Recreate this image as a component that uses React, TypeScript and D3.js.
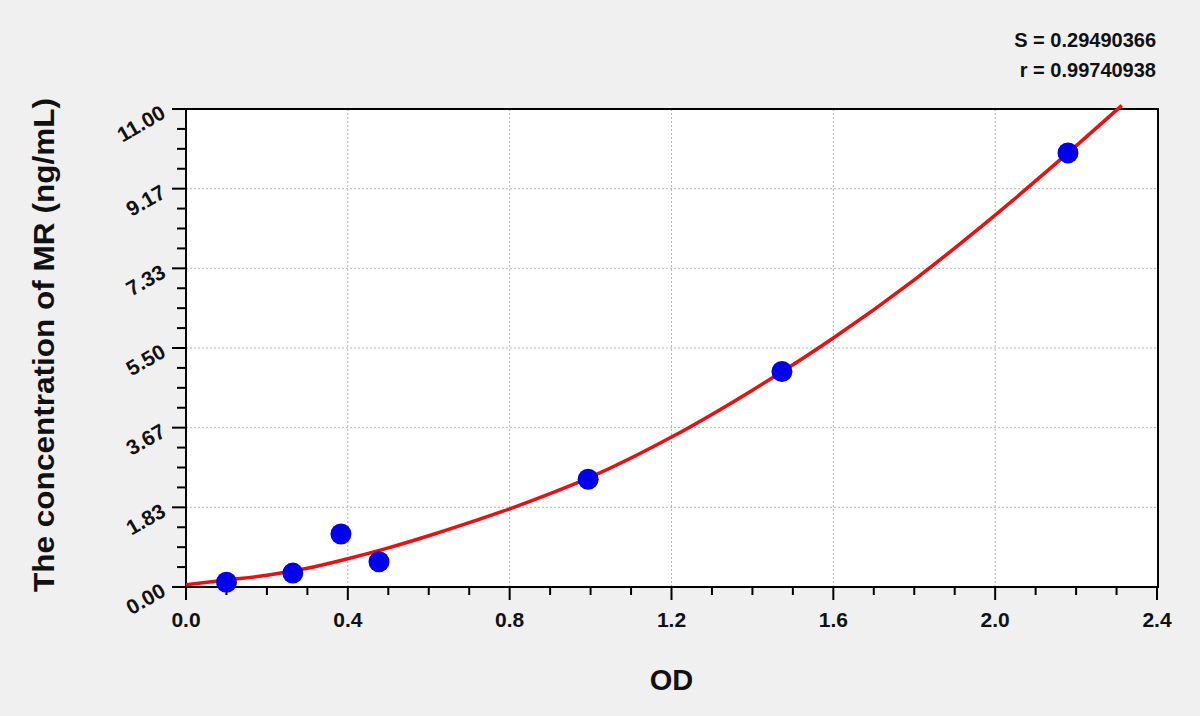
import * as d3 from "d3";

const width = 1200;
const height = 716;
const plotLeft = 186;
const plotRight = 1157;
const plotTop = 109;
const plotBottom = 587;

const font = "'Liberation Sans', Arial, sans-serif";

// measured standards (OD, concentration)
const pointOD = [0.1, 0.264, 0.383, 0.477, 0.994, 1.473, 2.18];
const pointConc = [0.11, 0.32, 1.22, 0.58, 2.48, 4.96, 9.99];

// fitted curve
const curveOD = [0, 0.1, 0.2, 0.3, 0.4, 0.5, 0.6, 0.7, 0.8, 0.9, 1.0, 1.2, 1.4, 1.6, 1.8, 2.0, 2.2, 2.313];
const curveConc = [0.05, 0.16, 0.27, 0.43, 0.65, 0.9, 1.18, 1.48, 1.8, 2.15, 2.53, 3.45, 4.53, 5.73, 7.07, 8.56, 10.15, 11.08];

const xTicks = [0, 0.4, 0.8, 1.2, 1.6, 2.0, 2.4];
const xTickLabels = ["0.0", "0.4", "0.8", "1.2", "1.6", "2.0", "2.4"];
const yTicks = [0, 1.8333, 3.6667, 5.5, 7.3333, 9.1667, 11];
const yTickLabels = ["0.00", "1.83", "3.67", "5.50", "7.33", "9.17", "11.00"];

const statLines = ["S = 0.29490366", "r = 0.99740938"];

const App = () => {
  const x = d3.scaleLinear().domain([0, 2.4]).range([plotLeft, plotRight]);
  const y = d3.scaleLinear().domain([0, 11]).range([plotBottom, plotTop]);

  const xMinor = d3.range(0, 25).map((i) => i * 0.1);
  const yMinor = d3.range(0, 25).map((i) => (i * 11) / 24);

  const line = d3
    .line<number>()
    .x((_, i) => x(curveOD[i]))
    .y((d) => y(d))
    .curve(d3.curveMonotoneX);

  return (
    <svg
      width={width}
      height={height}
      style={{ position: "absolute", left: 0, top: 0 }}
      fontFamily={font}
    >
      <rect width={width} height={height} fill="#f0f0f0" />
      <rect
        x={plotLeft}
        y={plotTop}
        width={plotRight - plotLeft + 1}
        height={plotBottom - plotTop}
        fill="#ffffff"
      />

      {/* grid */}
      {xTicks.slice(1, -1).map((t) => (
        <line
          key={"gx" + t}
          x1={x(t)}
          x2={x(t)}
          y1={plotTop}
          y2={plotBottom}
          stroke="#b4b4b4"
          strokeDasharray="2,2"
        />
      ))}
      {yTicks.slice(1, -1).map((t) => (
        <line
          key={"gy" + t}
          x1={plotLeft}
          x2={plotRight + 1}
          y1={y(t)}
          y2={y(t)}
          stroke="#b4b4b4"
          strokeDasharray="2,2"
        />
      ))}

      {/* frame */}
      <rect
        x={plotLeft}
        y={plotTop}
        width={plotRight - plotLeft + 1}
        height={plotBottom - plotTop}
        fill="none"
        stroke="#000"
        strokeWidth={2}
      />

      {/* x ticks */}
      {xMinor.map((t, i) => (
        <line
          key={"xt" + i}
          x1={x(t)}
          x2={x(t)}
          y1={plotBottom}
          y2={plotBottom + (i % 4 === 0 ? 13 : 8)}
          stroke="#000"
          strokeWidth={2}
        />
      ))}
      {xTicks.map((t, i) => (
        <text
          key={"xl" + i}
          x={x(t)}
          y={627}
          textAnchor="middle"
          fontSize={21}
          fontWeight="bold"
          fill="#111"
        >
          {xTickLabels[i]}
        </text>
      ))}

      {/* y ticks */}
      {yMinor.map((t, i) => (
        <line
          key={"yt" + i}
          x1={plotLeft}
          x2={plotLeft - (i % 4 === 0 ? 14 : 9)}
          y1={y(t)}
          y2={y(t)}
          stroke="#000"
          strokeWidth={2}
        />
      ))}
      {yTicks.map((t, i) => (
        <text
          key={"yl" + i}
          transform={`translate(167, ${y(t) + 8}) rotate(-30)`}
          textAnchor="end"
          fontSize={21}
          fontWeight="bold"
          fill="#111"
        >
          {yTickLabels[i]}
        </text>
      ))}

      {/* fitted curve */}
      <path
        d={line(curveConc) as string}
        fill="none"
        stroke="#e81010"
        strokeWidth={3.5}
      />

      {/* standards */}
      {pointOD.map((od, i) => (
        <circle key={"p" + i} cx={x(od)} cy={y(pointConc[i])} r={10.5} fill="#0000ee" />
      ))}

      {/* axis titles */}
      <text
        x={(plotLeft + plotRight) / 2}
        y={690}
        textAnchor="middle"
        fontSize={29}
        fontWeight="bold"
        fill="#111"
      >
        OD
      </text>
      <text
        transform={`translate(54, ${(plotTop + plotBottom) / 2 - 3}) rotate(-90)`}
        textAnchor="middle"
        fontSize={29}
        fontWeight="bold"
        fill="#111"
        textLength={494}
        lengthAdjust="spacingAndGlyphs"
      >
        The concentration of MR (ng/mL)
      </text>

      {/* fit statistics */}
      {statLines.map((s, i) => (
        <text
          key={"s" + i}
          x={1156}
          y={47 + i * 30}
          textAnchor="end"
          fontSize={20}
          fontWeight="bold"
          fill="#111"
        >
          {s}
        </text>
      ))}
    </svg>
  );
};

export default App;
